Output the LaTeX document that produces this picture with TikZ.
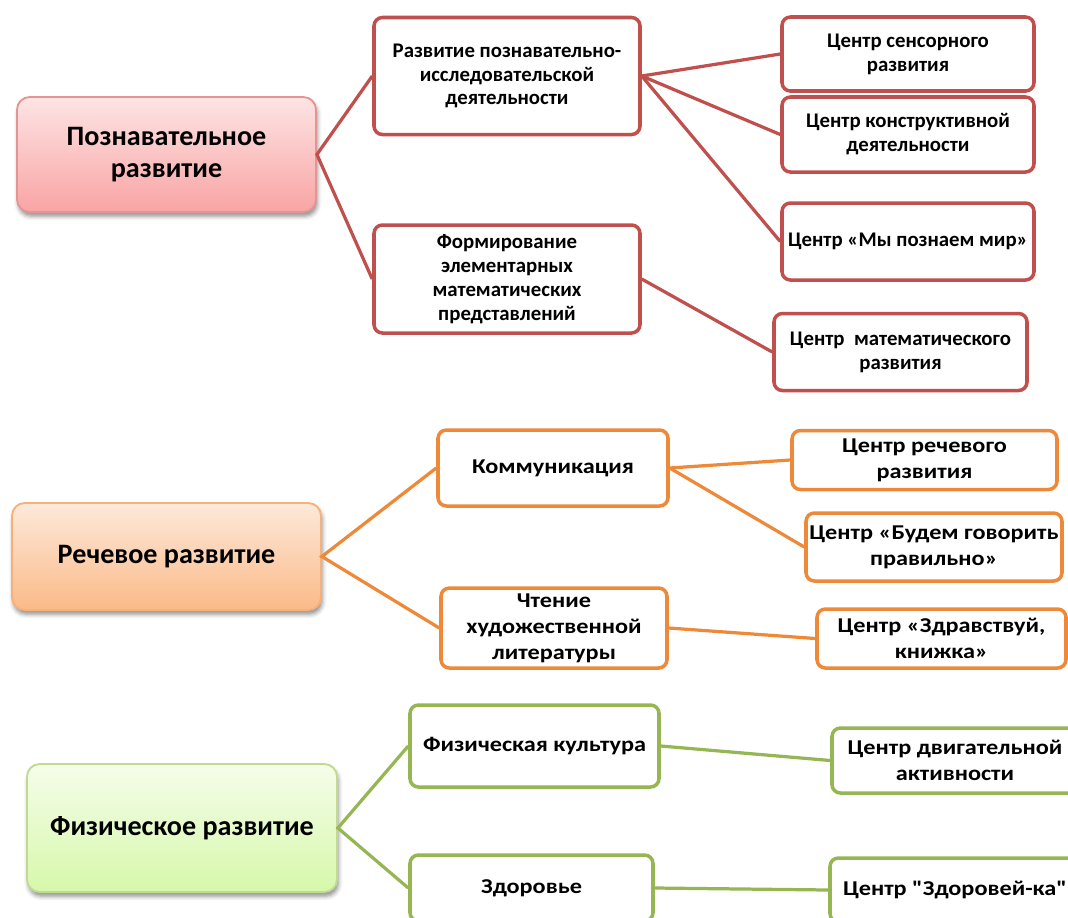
\documentclass[tikz,border=0pt]{standalone}
\usepackage{fontspec}
\setmainfont{Carlito}[Ligatures=TeXOff]
\newfontfamily\wide{Carlito}[Ligatures=TeXOff, FakeStretch=1.15]
\usetikzlibrary{shadows.blur}

\definecolor{pinkln}{RGB}{192,80,77}
\definecolor{pinkbd}{RGB}{226,150,148}
\definecolor{pinktop}{RGB}{253,228,228}
\definecolor{pinkbot}{RGB}{249,164,164}
\definecolor{orangeln}{RGB}{237,137,57}
\definecolor{orangebd}{RGB}{247,176,120}
\definecolor{orangetop}{RGB}{253,233,218}
\definecolor{orangebot}{RGB}{251,186,136}
\definecolor{greenln}{RGB}{150,182,84}
\definecolor{greenbd}{RGB}{192,218,146}
\definecolor{greentop}{RGB}{245,253,234}
\definecolor{greenbot}{RGB}{214,248,170}

\begin{document}
\begin{tikzpicture}[x=0.025cm, y=-0.025cm,
		cell/.style 2 args={align=center, inner sep=0pt,
				minimum width=#1*0.025cm, minimum height=#2*0.025cm},
		leaf/.style={draw=#1, fill=white, line width=2.5pt, rounded corners=6pt,
				font=\bfseries\fontsize{14.8}{17}\selectfont},
		wideleaf/.style={leaf=#1, font=\wide\bfseries\fontsize{15}{18.5}\selectfont},
		main/.style n args={3}{draw=#1, top color=#2, bottom color=#3, line width=1.3pt,
				rounded corners=9pt, font=\bfseries\fontsize{20}{23}\selectfont,
				blur shadow={shadow xshift=1pt, shadow yshift=-3pt, shadow blur radius=3pt, shadow opacity=45}},
		link/.style={draw=#1, line width=2.3pt}
	]
	\useasboundingbox (0,0) rectangle (1068,917);
	\clip (0,0) rectangle (1068,917);

	% cognitive
	\node [main={pinkbd}{pinktop}{pinkbot}, cell={299}{115}] (pmain) at (166.5,154.5) {Познавательное\\развитие};
	\node [leaf=pinkln, cell={266}{117}] (pr1) at (507,76) {Развитие познавательно-\\исследовательской\\деятельности};
	\node [leaf=pinkln, cell={266}{108}] (pr2) at (507,279) {Формирование\\элементарных\\математических\\представлений};
	\node [leaf=pinkln, cell={252}{74}] (pc1) at (908,54) {Центр сенсорного\\развития};
	\node [leaf=pinkln, cell={252}{75}] (pc2) at (908,134.5) {Центр конструктивной\\деятельности};
	\node [leaf=pinkln, cell={252}{77}] (pc3) at (908,241.5) {Центр «Мы познаем мир»};
	\node [leaf=pinkln, cell={253}{77}] (pc4) at (900.5,352) {Центр~~математического\\развития};
	\draw [link=pinkln] (pr1.west) -- (pmain.east) -- (pr2.west);
	\draw [link=pinkln] (pr1.east) -- (pc1.west);
	\draw [link=pinkln] (pr1.east) -- (pc2.west);
	\draw [link=pinkln] (pr1.east) -- (pc3.west);
	\draw [link=pinkln] (pr2.east) -- (pc4.west);

	% speech
	\node [main={orangebd}{orangetop}{orangebot}, cell={309}{107}] (omain) at (166.5,556.5) {Речевое развитие};
	\node [wideleaf=orangeln, cell={230}{76}] (or1) at (553,468) {Коммуникация};
	\node [wideleaf=orangeln, cell={226}{80}] (or2) at (554,628) {Чтение\\художественной\\литературы};
	\node [wideleaf=orangeln, cell={265}{59}] (oc1) at (924.5,460) {Центр речевого\\развития};
	\node [wideleaf=orangeln, cell={256}{68}] (oc2) at (934,547) {Центр «Будем говорить\\правильно»};
	\node [wideleaf=orangeln, cell={249}{59}] (oc3) at (941.5,638.5) {Центр «Здравствуй,\\книжка»};
	\draw [link=orangeln] (or1.west) -- (omain.east) -- (or2.west);
	\draw [link=orangeln] (or1.east) -- (oc1.west);
	\draw [link=orangeln] (or1.east) -- (oc2.west);
	\draw [link=orangeln] (or2.east) -- (oc3.west);

	% physical
	\node [main={greenbd}{greentop}{greenbot}, cell={310}{128}] (gmain) at (182,828) {Физическое развитие};
	\node [wideleaf=greenln, cell={249}{82}] (gr1) at (534.5,746) {Физическая культура};
	\node [wideleaf=greenln, cell={243}{66}] (gr2) at (531.5,888) {Здоровье};
	\node [wideleaf=greenln, cell={246}{65}] (gc1) at (955,760.5) {Центр двигательной\\активности};
	\node [wideleaf=greenln, cell={250}{64}] (gc2) at (955,890) {Центр "Здоровей-ка"};
	\draw [link=greenln] (gr1.west) -- (gmain.east) -- (gr2.west);
	\draw [link=greenln] (gr1.east) -- (gc1.west);
	\draw [link=greenln] (gr2.east) -- (gc2.west);
\end{tikzpicture}
\end{document}
